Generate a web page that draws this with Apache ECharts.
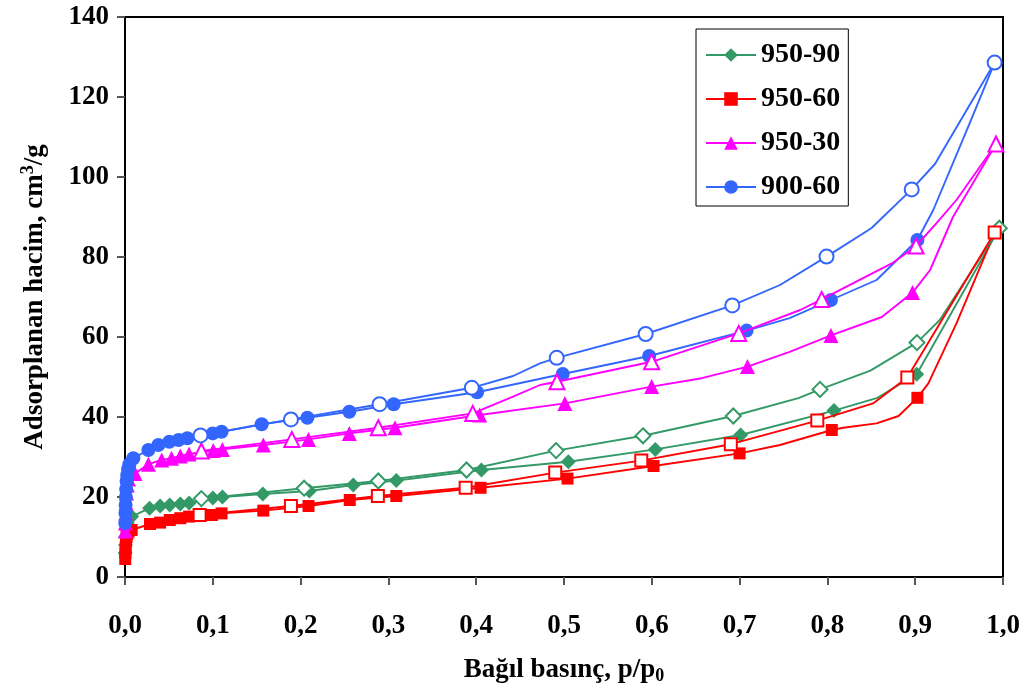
<!DOCTYPE html>
<html>
<head>
<meta charset="utf-8">
<script src="https://cdn.jsdelivr.net/npm/echarts@6/dist/echarts.min.js"></script>
<style>
  html, body { margin: 0; padding: 0; background: #fff; }
  #chart { width: 1028px; height: 690px; }
</style>
</head>
<body>
<div id="chart"></div>
<script>
// Nitrogen adsorption / desorption isotherms, p/p0 vs adsorbed volume (cm3/g)
const seriesNames = ['950-90', '950-60', '950-30', '900-60'];
const xTickLabels = ['0,0', '0,1', '0,2', '0,3', '0,4', '0,5', '0,6', '0,7', '0,8', '0,9', '1,0'];

// measured adsorption points [p/p0, volume]
const ads950_90 = [[0.0003, 6], [0.0006, 8], [0.001, 10], [0.0016, 12], [0.0025, 13.5], [0.004, 14.5],
  [0.0076, 15.1], [0.028, 17.2], [0.04, 17.75], [0.051, 18], [0.063, 18.25], [0.073, 18.5], [0.1, 19.75],
  [0.111, 20], [0.157, 20.75], [0.21, 21.5], [0.26, 23], [0.309, 24.1], [0.406, 26.75], [0.505, 28.8],
  [0.604, 31.9], [0.7012, 35.5], [0.8075, 41.6], [0.9017, 50.7], [0.9958, 87.2]];
const ads950_60 = [[0.0003, 4.5], [0.0005, 6], [0.0008, 7.5], [0.0012, 9], [0.0018, 10], [0.0026, 10.8], [0.004, 11.3],
  [0.0076, 11.75], [0.0285, 13.25], [0.04, 13.6], [0.051, 14.25], [0.063, 14.7], [0.073, 15.1], [0.099, 15.5],
  [0.11, 15.9], [0.1575, 16.6], [0.209, 17.75], [0.256, 19.25], [0.309, 20.25], [0.405, 22.3], [0.504, 24.6],
  [0.602, 27.75], [0.7, 30.9], [0.805, 36.75], [0.9025, 44.8], [0.9905, 86.1]];
const ads950_30 = [[0.0003, 11.5], [0.0005, 13.5], [0.0008, 16], [0.0012, 18.5], [0.0018, 21], [0.0027, 23], [0.004, 24.5],
  [0.0114, 25.9], [0.0266, 28.2], [0.0418, 29.25], [0.053, 29.7], [0.063, 30.25], [0.073, 30.75], [0.1006, 31.6],
  [0.111, 31.9], [0.1576, 33], [0.209, 34.4], [0.2555, 35.9], [0.3075, 37.3], [0.404, 40.5], [0.501, 43.4],
  [0.5998, 47.6], [0.709, 52.6], [0.804, 60.4], [0.897, 71.1], [0.992, 108.25]];
const ads900_60 = [[0.0003, 13.5], [0.0005, 16], [0.0007, 18], [0.001, 20], [0.0013, 22], [0.0018, 24], [0.0025, 25.5],
  [0.0035, 27], [0.005, 28.2], [0.0095, 29.7], [0.0266, 31.75], [0.038, 33], [0.0505, 33.8], [0.061, 34.25],
  [0.071, 34.7], [0.0999, 35.9], [0.11, 36.3], [0.1557, 38.2], [0.2077, 39.8], [0.2555, 41.3], [0.306, 43.2],
  [0.401, 46.2], [0.4985, 50.75], [0.597, 55.25], [0.708, 61.6], [0.804, 69.25], [0.9025, 84.25], [0.9905, 128.6]];

// measured desorption points [p/p0, volume]
const des950_90 = [[0.9958, 87.2], [0.902, 58.6], [0.7916, 46.9], [0.6928, 40.25], [0.59, 35.3], [0.491, 31.6],
  [0.389, 26.75], [0.2885, 24], [0.204, 22.2], [0.087, 19.6]];
const des950_60 = [[0.9905, 86.1], [0.891, 49.9], [0.7885, 39.1], [0.69, 33.2], [0.588, 29.1], [0.49, 26.1],
  [0.388, 22.3], [0.288, 20.25], [0.189, 17.75], [0.085, 15.5]];
const des950_30 = [[0.992, 108.25], [0.901, 82.75], [0.7935, 69.4], [0.699, 60.9], [0.5998, 53.8], [0.492, 48.8],
  [0.396, 40.9], [0.2885, 37.3], [0.19, 34.4], [0.087, 31.5]];
const des900_60 = [[0.9905, 128.6], [0.896, 96.9], [0.799, 80.1], [0.6917, 67.9], [0.593, 60.75], [0.4917, 54.8],
  [0.395, 47.3], [0.29, 43.2], [0.189, 39.4], [0.086, 35.4]];

// additional unmarked points along the connecting curves
const adsCurve950_90 = [[0.856, 44.7]];
const adsCurve950_60 = [[0.746, 33], [0.818, 37.3], [0.856, 38.4], [0.881, 40.25], [0.915, 48.4], [0.947, 63.4]];
const adsCurve950_30 = [[0.657, 49.7], [0.757, 56.3], [0.862, 65], [0.917, 76.75], [0.943, 90]];
const adsCurve900_60 = [[0.757, 64.7], [0.856, 74.25], [0.9206, 91.75], [0.962, 113.4]];
const desCurve950_90 = [[0.928, 64.25], [0.849, 51.6], [0.767, 44.7]];
const desCurve950_60 = [[0.852, 43.4]];
const desCurve950_30 = [[0.947, 94.25], [0.924, 88.4], [0.875, 78.6], [0.769, 66.75], [0.4727, 48], [0.442, 45.1]];
const desCurve900_60 = [[0.9225, 103.25], [0.85, 87.2], [0.746, 73], [0.4727, 53.4], [0.442, 50.25]];

const colors = ['#339966', '#FF0000', '#FF00FF', '#3366FF'];
const filledSymbols = ['diamond', 'rect', 'triangle', 'circle'];
const emptySymbols = ['emptyDiamond', 'emptyRect', 'emptyTriangle', 'emptyCircle'];
const symbolSizes = [15, 12, 15, 14];

const adsSets = [ads950_90, ads950_60, ads950_30, ads900_60];
const desSets = [des950_90, des950_60, des950_30, des900_60];
const adsCurves = [adsCurve950_90, adsCurve950_60, adsCurve950_30, adsCurve900_60];
const desCurves = [desCurve950_90, desCurve950_60, desCurve950_30, desCurve900_60];

// merge marked and unmarked points into one path ordered by p/p0
function buildPath(marked, extra, descending) {
  const pts = marked.map(p => ({ value: p }))
    .concat(extra.map(p => ({ value: p, symbol: 'none' })));
  pts.sort((a, b) => descending ? b.value[0] - a.value[0] : a.value[0] - b.value[0]);
  return pts;
}

const series = [];
seriesNames.forEach((name, i) => {
  const common = {
    name: name,
    type: 'line',
    color: colors[i],
    lineStyle: { width: 1.9, color: colors[i] },
    symbolSize: symbolSizes[i],
    showAllSymbol: true,
    animation: false
  };
  // adsorption branch: filled markers (listed first so the legend uses it)
  series.push(Object.assign({}, common, {
    symbol: filledSymbols[i],
    itemStyle: { color: colors[i] },
    z: 2 + i,
    data: buildPath(adsSets[i], adsCurves[i], false)
  }));
  // desorption branch: open markers, drawn above the adsorption branch
  series.push(Object.assign({}, common, {
    symbol: emptySymbols[i],
    itemStyle: { color: colors[i], borderWidth: 1.8 },
    z: 10 + i,
    data: buildPath(desSets[i], desCurves[i], true)
  }));
});

const chart = echarts.init(document.getElementById('chart'), null, { renderer: 'canvas' });
chart.setOption({
  backgroundColor: '#fff',
  animation: false,
  textStyle: { fontFamily: 'Liberation Serif' },
  grid: {
    left: 125, right: 25, top: 17, bottom: 113,
    show: true, borderColor: '#000', borderWidth: 2, backgroundColor: 'transparent'
  },
  legend: {
    data: seriesNames,
    orient: 'vertical',
    left: 696, top: 29,
    padding: [12, 8, 5, 9],
    itemGap: 16,
    itemWidth: 50,
    itemHeight: 17,
    backgroundColor: '#fff',
    borderColor: '#000',
    borderWidth: 1,
    z: 20,
    textStyle: { fontFamily: 'Liberation Serif', fontWeight: 'bold', fontSize: 28, color: '#000' }
  },
  xAxis: {
    type: 'value', min: 0, max: 1, interval: 0.1,
    name: '{n|Bağıl basınç, p/p}{sub|0}',
    nameLocation: 'middle', nameGap: 78,
    nameTextStyle: {
      rich: {
        n: { fontFamily: 'Liberation Serif', fontWeight: 'bold', fontSize: 27, color: '#000' },
        sub: { fontFamily: 'Liberation Serif', fontWeight: 'bold', fontSize: 18, color: '#000', padding: [12, 0, 0, 0] }
      }
    },
    axisLine: { show: true, lineStyle: { color: '#000', width: 2 } },
    axisTick: { show: true, inside: false, length: 8, lineStyle: { color: '#555', width: 2 } },
    splitLine: { show: false },
    axisLabel: {
      margin: 36,
      fontFamily: 'Liberation Serif', fontWeight: 'bold', fontSize: 27, color: '#000',
      formatter: v => xTickLabels[Math.round(v * 10)]
    }
  },
  yAxis: {
    type: 'value', min: 0, max: 140, interval: 20,
    name: '{n|Adsorplanan hacim, cm}{sup|3}{n|/g}',
    nameLocation: 'middle', nameGap: 74,
    nameTextStyle: {
      rich: {
        n: { fontFamily: 'Liberation Serif', fontWeight: 'bold', fontSize: 27, color: '#000' },
        sup: { fontFamily: 'Liberation Serif', fontWeight: 'bold', fontSize: 18, color: '#000', padding: [0, 0, 14, 0] }
      }
    },
    axisLine: { show: true, lineStyle: { color: '#000', width: 2 } },
    axisTick: { show: true, inside: false, length: 8, lineStyle: { color: '#555', width: 2 } },
    splitLine: { show: false },
    axisLabel: {
      margin: 16,
      fontFamily: 'Liberation Serif', fontWeight: 'bold', fontSize: 27, color: '#000'
    }
  },
  series: series
});
</script>
</body>
</html>
